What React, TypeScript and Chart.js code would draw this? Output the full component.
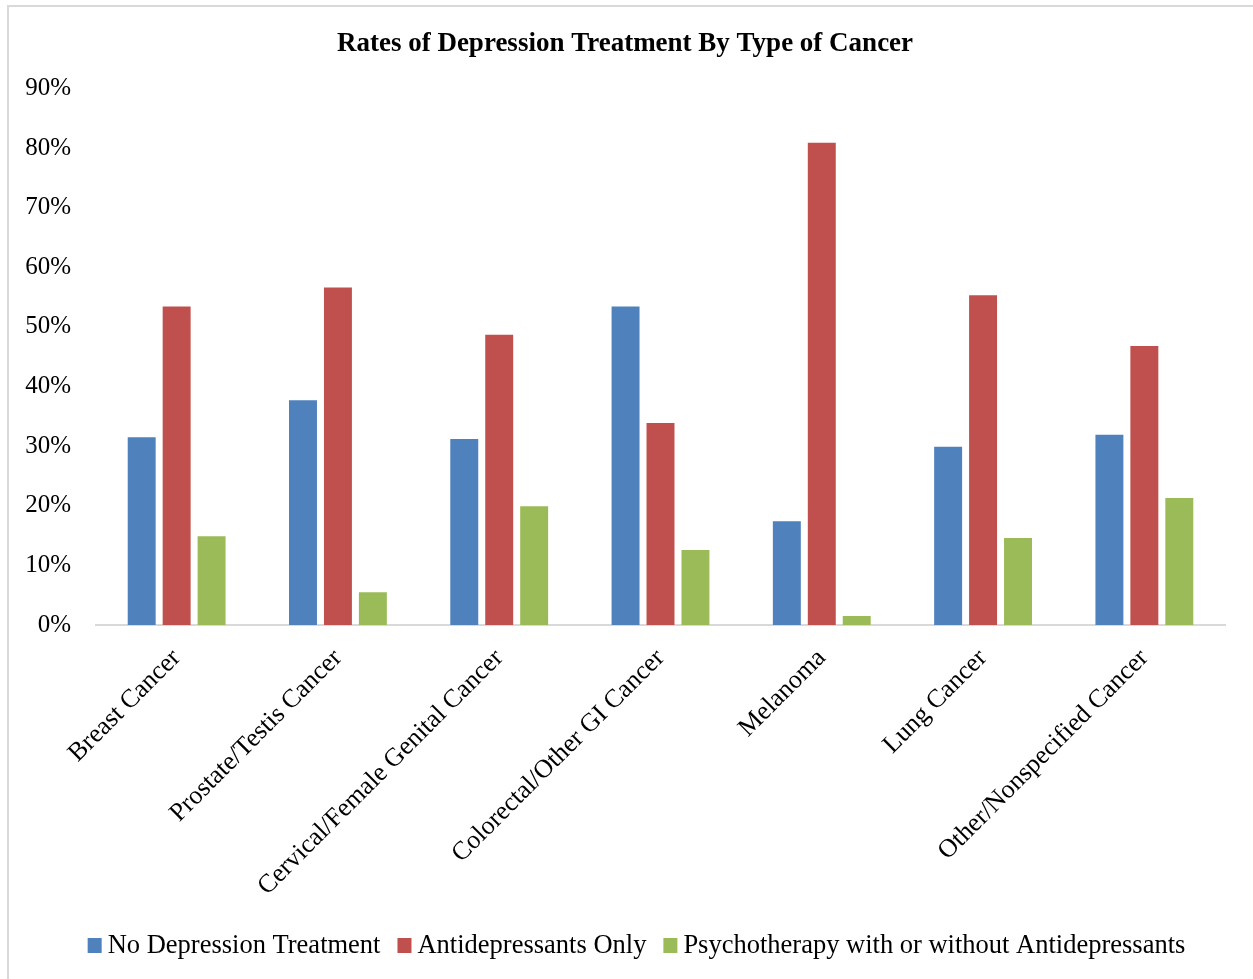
import React, { useEffect, useRef } from "react";
import { Chart, registerables } from "chart.js";

Chart.register(...registerables);

const categories = [
  "Breast Cancer",
  "Prostate/Testis Cancer",
  "Cervical/Female Genital Cancer",
  "Colorectal/Other GI Cancer",
  "Melanoma",
  "Lung Cancer",
  "Other/Nonspecified Cancer",
];

const noTreatment = [31.5, 37.7, 31.2, 53.4, 17.4, 29.9, 31.9];
const antidepressantsOnly = [53.4, 56.6, 48.7, 33.9, 80.9, 55.3, 46.8];
const psychotherapy = [14.9, 5.5, 19.9, 12.6, 1.5, 14.6, 21.3];

const seriesNames = [
  "No Depression Treatment",
  "Antidepressants Only",
  "Psychotherapy with or without Antidepressants",
];

const seriesColors = ["#4F81BD", "#C0504D", "#9BBB59"];

const yTicks = [0, 10, 20, 30, 40, 50, 60, 70, 80, 90];

const FONT = "'Liberation Serif', 'Times New Roman', serif";

// Legend drawn at the bottom with compact box/text spacing (as in the reference)
const bottomLegend = {
  id: "bottomLegend",
  afterDraw(chart: any) {
    const ctx = chart.ctx as CanvasRenderingContext2D;
    const fontSize = 26.5;
    const box = 14;
    const gapBoxText = 6;
    const gapItems = 17;
    ctx.save();
    ctx.font = `${fontSize}px ${FONT}`;
    const items = chart.data.datasets.map((ds: any) => ({
      text: ds.label as string,
      color: ds.backgroundColor as string,
      w: ctx.measureText(ds.label).width,
    }));
    const total =
      items.reduce((s: number, it: any) => s + box + gapBoxText + it.w, 0) +
      gapItems * (items.length - 1);
    let x = (chart.width - total) / 2 + 10;
    const cy = chart.height - 33;
    ctx.textBaseline = "middle";
    ctx.textAlign = "left";
    for (const it of items) {
      ctx.fillStyle = it.color;
      ctx.fillRect(x, cy - box / 2 - 1, box, box + 1);
      x += box + gapBoxText;
      ctx.fillStyle = "#000";
      ctx.fillText(it.text, x, cy);
      x += it.w + gapItems;
    }
    ctx.restore();
  },
};

export default function App() {
  const canvasRef = useRef<HTMLCanvasElement | null>(null);

  useEffect(() => {
    if (!canvasRef.current) return;
    const chart = new Chart(canvasRef.current, {
      type: "bar",
      data: {
        labels: categories,
        datasets: [
          { label: seriesNames[0], data: noTreatment, backgroundColor: seriesColors[0] },
          { label: seriesNames[1], data: antidepressantsOnly, backgroundColor: seriesColors[1] },
          { label: seriesNames[2], data: psychotherapy, backgroundColor: seriesColors[2] },
        ],
      },
      plugins: [bottomLegend],
      options: {
        animation: false,
        responsive: true,
        maintainAspectRatio: false,
        datasets: {
          bar: { categoryPercentage: 0.65, barPercentage: 0.8 },
        },
        layout: { padding: { left: 25, right: 28, top: 18, bottom: 59 } },
        plugins: {
          title: {
            display: true,
            text: "Rates of Depression Treatment By Type of Cancer",
            color: "#000",
            font: { family: FONT, size: 27, weight: "bold" },
            padding: { top: 10, bottom: 28 },
          },
          legend: { display: false },
          tooltip: { enabled: false },
        },
        scales: {
          x: {
            grid: { display: false, drawTicks: false },
            border: { display: true, color: "#d9d9d9", width: 2 },
            ticks: {
              color: "#000",
              font: { family: FONT, size: 26 },
              minRotation: 45,
              maxRotation: 45,
              padding: 18,
            },
            afterFit: (scale: any) => {
              scale.paddingLeft = 0;
              scale.paddingRight = 0;
              scale.height = 295;
            },
          },
          y: {
            min: 0,
            max: 90,
            grid: { display: false, drawTicks: false },
            border: { display: false },
            afterBuildTicks: (scale: any) => {
              scale.ticks = yTicks.map((v) => ({ value: v }));
            },
            afterFit: (scale: any) => {
              scale.width = 71;
            },
            ticks: {
              color: "#000",
              font: { family: FONT, size: 25 },
              padding: 25,
              callback: (v: any) => `${v}%`,
            },
          },
        },
      },
    });
    return () => chart.destroy();
  }, []);

  return (
    <div style={{ position: "fixed", left: 0, top: 0, width: 1253, height: 979, background: "#fff" }}>
      <div
        style={{
          position: "absolute",
          left: 7,
          top: 5,
          width: 1246,
          height: 974,
          borderTop: "2px solid #d9d9d9",
          borderLeft: "2px solid #d9d9d9",
          boxSizing: "border-box",
        }}
      />
      <div style={{ position: "absolute", left: 0, top: 0, width: 1253, height: 979 }}>
        <canvas ref={canvasRef} />
      </div>
    </div>
  );
}
